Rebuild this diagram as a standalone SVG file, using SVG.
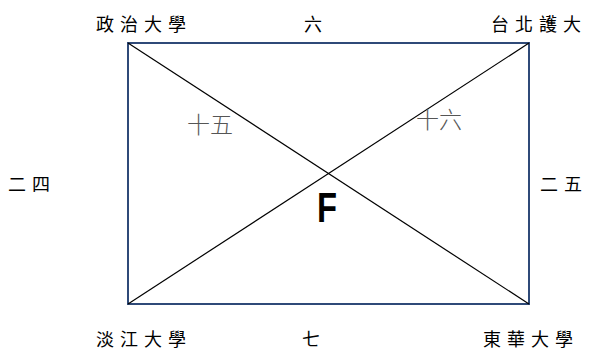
<svg xmlns="http://www.w3.org/2000/svg" width="590" height="356" viewBox="0 0 590 356">
<style>
.lbl{font-family:"Noto Sans CJK TC","Noto Sans CJK SC",sans-serif;font-size:18px;fill:#000;letter-spacing:6px}
.mid{font-family:"Noto Sans CJK TC","Noto Sans CJK SC",sans-serif;font-size:23px;fill:#555;font-weight:300}
.f{font-family:"Liberation Sans",Arial,sans-serif;font-size:42px;font-weight:bold;fill:#000}
</style>
<rect width="590" height="356" fill="#fff"/>
<g id="frame">
<rect x="128" y="43" width="401" height="261" fill="none" stroke="#2F4A78" stroke-width="2"/>
</g>
<g id="connectors" stroke="#000" stroke-width="1.2">
<line x1="128" y1="43" x2="529" y2="304"/>
<line x1="529" y1="43" x2="128" y2="304"/>
</g>
<g id="n-zhengzhi"><text class="lbl" x="96" y="31">政治大學</text></g>
<g id="n-six"><text class="lbl" x="304" y="31">六</text></g>
<g id="n-taibei"><text class="lbl" x="491" y="31">台北護大</text></g>
<g id="n-24"><text class="lbl" x="8" y="191">二四</text></g>
<g id="n-25"><text class="lbl" x="540" y="191">二五</text></g>
<g id="n-danjiang"><text class="lbl" x="96" y="346">淡江大學</text></g>
<g id="n-seven"><text class="lbl" x="302" y="346">七</text></g>
<g id="n-donghua"><text class="lbl" x="483" y="346">東華大學</text></g>
<g id="n-15"><text class="mid" x="187" y="133">十五</text></g>
<g id="n-16"><text class="mid" x="416" y="128">十六</text></g>
<g id="n-F"><text class="f" transform="translate(317,222) scale(0.78,1)">F</text></g>
</svg>
